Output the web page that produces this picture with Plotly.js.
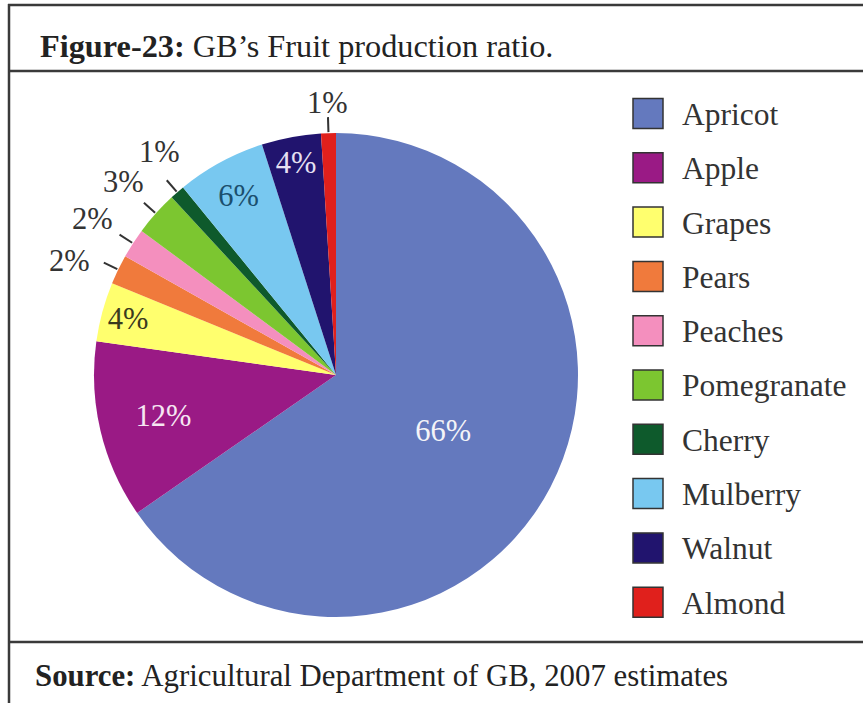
<!DOCTYPE html>
<html><head><meta charset="utf-8">
<script src="https://cdn.plot.ly/plotly-3.0.1.min.js"></script>
<style>html,body{margin:0;padding:0;background:#fff}</style>
</head><body><div id="chart" style="width:863px;height:703px"></div>
<script>
// ---- data ----
const categories = ['Apricot','Apple','Grapes','Pears','Peaches','Pomegranate','Cherry','Mulberry','Walnut','Almond'];
const percents = [66, 12, 4, 2, 2, 3, 1, 6, 4, 1];
const colors = ['#6479BE','#9A1A85','#FFFF6E','#F07A3C','#F48FBE','#7CC630','#0E5A2C','#78C8F0','#21146E','#E0201C'];
const textPlacement = ['inside','inside','inside','none','none','none','none','inside','inside','none'];
const insideTextColors = ['#F4F4F8','#F6E6F2','#3A3A1E','#333','#333','#333','#333','#1B4F6E','#E6E0F2','#333'];
const titleBold = 'Figure-23:';
const titleText = 'GB’s Fruit production ratio.';
const sourceBold = 'Source:';
const sourceText = 'Agricultural Department of GB, 2007 estimates';

// ---- layout constants ----
const W = 863, H = 703;
const CX = 336, CY = 375, R = 242;
const FONT = 'Liberation Serif, Times New Roman, serif';
const INK = '#222';
const fx = x => x / W;
const fy = y => 1 - y / H;

const shapes = [];
const annotations = [];

// frame
const frameLine = {color: '#3a3a3a', width: 2.5};
shapes.push({type:'line', xref:'paper', yref:'paper', x0:fx(9), x1:fx(9), y0:fy(4), y1:fy(703), line:frameLine});
shapes.push({type:'line', xref:'paper', yref:'paper', x0:fx(8), x1:1, y0:fy(5), y1:fy(5), line:frameLine});
shapes.push({type:'line', xref:'paper', yref:'paper', x0:fx(8), x1:1, y0:fy(71), y1:fy(71), line:frameLine});
shapes.push({type:'line', xref:'paper', yref:'paper', x0:fx(8), x1:1, y0:fy(642), y1:fy(642), line:frameLine});

// title & source
annotations.push({xref:'paper', yref:'paper', x:fx(38), y:fy(46), xanchor:'left', yanchor:'middle', showarrow:false,
  text:'<b>' + titleBold + '</b> ' + titleText, font:{family:FONT, size:32.3, color:INK}});
annotations.push({xref:'paper', yref:'paper', x:fx(33), y:fy(676), xanchor:'left', yanchor:'middle', showarrow:false,
  text:'<b>' + sourceBold + '</b> ' + sourceText, font:{family:FONT, size:30.8, color:INK}});

// outside labels with leader ticks, computed from values
const total = percents.reduce((a, b) => a + b, 0);
let cum = 0;
const outside = [];
percents.forEach((v, i) => {
  const mid = (cum + v / 2) / total * 360;
  cum += v;
  if (textPlacement[i] === 'none') outside.push({i: i, v: v, mid: mid, ang: mid});
});
// spread neighbouring labels so they keep a minimum angular gap
const minSep = 9.5;
for (let it = 0; it < 60; it++) {
  for (let k = 0; k < outside.length - 1; k++) {
    const a = outside[k], b = outside[k + 1];
    const gap = b.ang - a.ang;
    if (gap < minSep && gap > -minSep) {
      const d = (minSep - gap) / 2;
      a.ang -= d; b.ang += d;
    }
  }
}
outside.forEach(o => {
  const m = o.mid * Math.PI / 180, a = o.ang * Math.PI / 180;
  const s = Math.sin(m), c = Math.cos(m);
  const r0 = R + 1, r1 = R + 16;
  shapes.push({type:'line', xref:'paper', yref:'paper',
    x0:fx(CX + r0 * s), y0:fy(CY - r0 * c), x1:fx(CX + r1 * s), y1:fy(CY - r1 * c),
    line:{color:'#333', width:2}});
  const sa = Math.sin(a), ca = Math.cos(a);
  const rl = R + 30 + 20 * Math.abs(sa);
  annotations.push({xref:'paper', yref:'paper', x:fx(CX + rl * sa), y:fy(CY - rl * ca),
    xanchor:'center', yanchor:'middle', showarrow:false, text: o.v + '%',
    font:{family:FONT, size:30.5, color:'#333'}});
});

// legend
categories.forEach((name, i) => {
  const yc = 113.5 + 54.3 * i;
  shapes.push({type:'rect', xref:'paper', yref:'paper', x0:fx(633), x1:fx(663), y0:fy(yc - 15), y1:fy(yc + 15),
    fillcolor:colors[i], line:{color:'#333', width:1.5}});
  annotations.push({xref:'paper', yref:'paper', x:fx(680), y:fy(yc + 1), xanchor:'left', yanchor:'middle', showarrow:false,
    text:name, font:{family:FONT, size:31.5, color:'#333'}});
});

const trace = {
  type:'pie', labels:categories, values:percents, sort:false, direction:'clockwise', rotation:0,
  marker:{colors:colors, line:{width:0}},
  texttemplate:'%{value}%', textposition:textPlacement, insidetextorientation:'horizontal',
  insidetextfont:{family:FONT, size:30.5, color:insideTextColors},
  hoverinfo:'none', showlegend:false,
  domain:{x:[fx(CX - R), fx(CX + R)], y:[fy(CY + R), fy(CY - R)]}
};

const layout = {
  width:W, height:H, margin:{l:0, r:0, t:0, b:0},
  paper_bgcolor:'#fff', plot_bgcolor:'#fff', showlegend:false,
  shapes:shapes, annotations:annotations
};

Plotly.newPlot('chart', [trace], layout, {displayModeBar:false, staticPlot:true});
</script>
</body></html>
